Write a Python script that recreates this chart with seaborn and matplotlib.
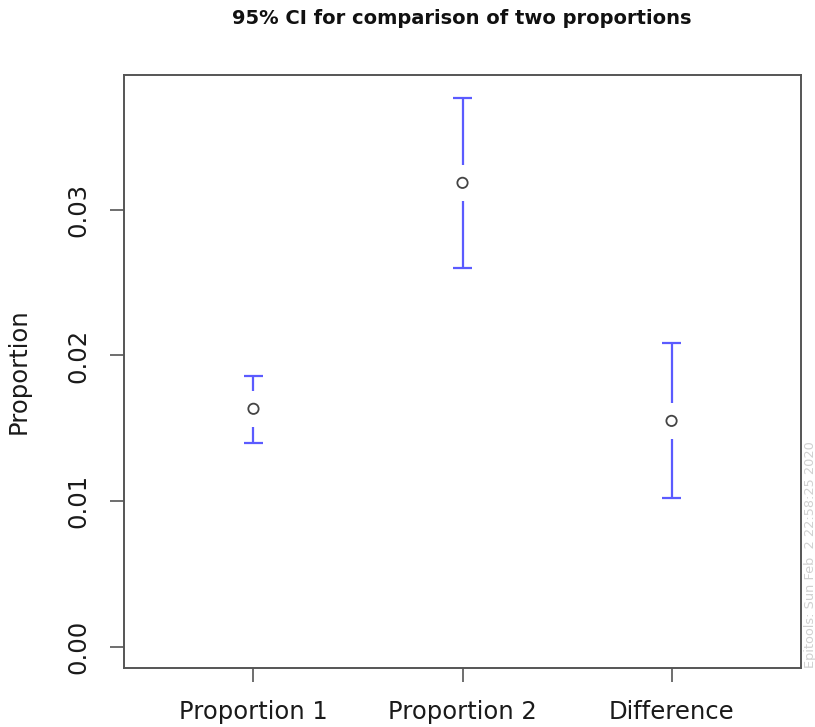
import matplotlib
matplotlib.use('Agg')
import matplotlib.pyplot as plt
import seaborn as sns
import pandas as pd

# Values
groups = ['Proportion 1', 'Proportion 2', 'Difference']
estimate = [0.01634, 0.03185, 0.01551]
lower = [0.01400, 0.02601, 0.01023]
upper = [0.01860, 0.03768, 0.02087]

df = pd.DataFrame({'pos': [1, 2, 3], 'est': estimate, 'lo': lower, 'hi': upper})

sns.set_style('white')
plt.rcParams['font.family'] = ['DejaVu Sans']

fig = plt.figure(figsize=(8.15, 7.27), dpi=100)
ax = fig.add_axes([0.152, 0.0812, 0.831, 0.8156])

# error bars with a gap round the point, like R's arrows()
gap = 0.00125
blue = '#5b5bff'
ax.vlines(df['pos'], df['lo'], df['est'] - gap, color=blue, lw=1.6)
ax.vlines(df['pos'], df['est'] + gap, df['hi'], color=blue, lw=1.6)
ax.hlines(df['lo'], df['pos'] - 0.045, df['pos'] + 0.045, color=blue, lw=1.6)
ax.hlines(df['hi'], df['pos'] - 0.045, df['pos'] + 0.045, color=blue, lw=1.6)

sns.scatterplot(data=df, x='pos', y='est', ax=ax, s=55, marker='o',
                facecolor='none', edgecolor='#444444', linewidth=1.3, zorder=3)

ax.set_xlim(0.38, 3.62)
ax.set_ylim(-0.00145, 0.03925)
ax.set_xticks([1, 2, 3])
ax.set_xticklabels(groups, fontsize=17.5, color='#1a1a1a')
ax.set_yticks([0, 0.01, 0.02, 0.03])
ax.set_yticklabels(['0.00', '0.01', '0.02', '0.03'], fontsize=17.5, rotation=90, va='center',
                   color='#1a1a1a')
ax.tick_params(axis='both', direction='out', length=10, width=1.2, color='#555555',
               left=True, bottom=True)
ax.tick_params(axis='x', pad=13)
ax.tick_params(axis='y', pad=14)
for sp in ax.spines.values():
    sp.set_color('#555555')
    sp.set_linewidth(1.4)

ax.set_xlabel('')
ax.set_ylabel('Proportion', fontsize=17.5, labelpad=26, color='#1a1a1a')
fig.text(0.566, 0.974, '95% CI for comparison of two proportions', ha='center', va='center',
         fontsize=14, fontweight='bold', color='#111111')
fig.text(0.994, 0.081, 'Epitools: Sun Feb  2 22:58:25 2020', rotation=90, ha='center', va='bottom',
         fontsize=9.3, color='#d0d0d0')

fig.savefig('out.png', dpi=100)
